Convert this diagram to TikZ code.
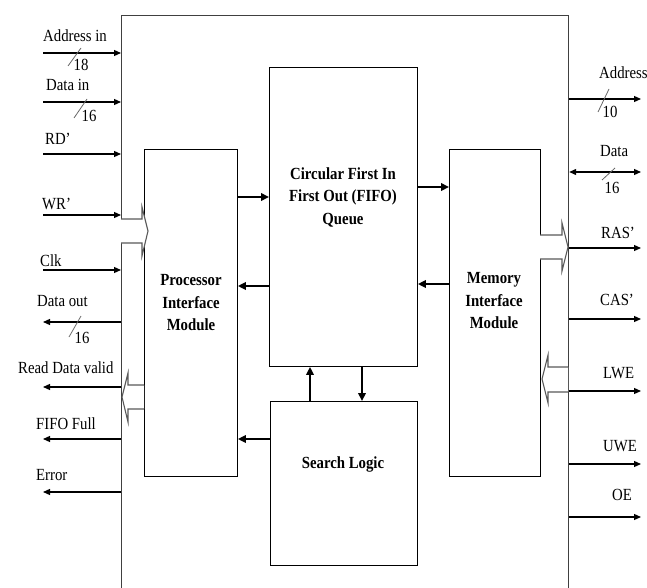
\documentclass[tikz,border=0pt]{standalone}
\usepackage{fontspec}
\setmainfont{Liberation Serif}[FakeStretch=0.87]
\usetikzlibrary{arrows.meta, positioning, calc}

\begin{document}
\begin{tikzpicture}[x=1pt, y=-1pt, >={Triangle[length=7pt,width=6pt]},
  every node/.style={font=\fontsize{17}{22.5}\selectfont, inner sep=0pt},
  blk/.style={draw, line width=0.9pt, anchor=north west},
  sig/.style={->, line width=1.2pt},
  bus/.style={->, line width=2.7pt, >={Triangle[length=8pt,width=7.5pt]}},
  hollow/.style={draw=black!65, line width=1.1pt, fill=white},
  busmark/.style={draw=black!60, line width=0.8pt},
  lbl/.style={anchor=base west},
  btxt/.style={align=center, font=\fontsize{17}{22.5}\selectfont\bfseries}]
\useasboundingbox (0,0) rectangle (647,588);

% blocks
\node[blk, draw=black!75, line width=1.2pt, minimum width=447pt, minimum height=600pt] (chip) at (121,15) {};
\node[blk, minimum width=93pt, minimum height=327pt] (proc) at (144,149) {};
\node[blk, minimum width=148pt, minimum height=299pt] (fifo) at (269,67) {};
\node[blk, minimum width=147pt, minimum height=164pt] (search) at (270,401) {};
\node[blk, minimum width=91pt, minimum height=327pt] (mem) at (449,149) {};

\node[btxt] (proctxt) at (191,303) {Processor\\Interface\\Module};
\node[btxt] (fifotxt) at (343,197) {Circular First In\\First Out (FIFO)\\Queue};
\node[btxt] (memtxt) at (494,301) {Memory\\Interface\\Module};
\node[btxt] (searchtxt) at (343,464) {Search Logic};

% internal buses
\draw[bus] (proc.east |- 0,197) -- (fifo.west |- 0,197);
\draw[bus] (fifo.west |- 0,286) -- (proc.east |- 0,286);
\draw[bus] (search.west |- 0,439) -- (proc.east |- 0,439);
\draw[bus] (fifo.east |- 0,187) -- (mem.west |- 0,187);
\draw[bus] (mem.west |- 0,284) -- (fifo.east |- 0,284);
\draw[bus] (search.north -| 310,0) -- (fifo.south -| 310,0);
\draw[bus] (fifo.south -| 362,0) -- (search.north -| 362,0);

% processor side signals
\coordinate (addrin) at (43,53);
\coordinate (datain) at (43,102);
\coordinate (rd) at (43,154);
\coordinate (wr) at (43,215);
\coordinate (clk) at (43,270);
\coordinate (dataout) at (43,322);
\coordinate (rdv) at (43,387);
\coordinate (full) at (43,439);
\coordinate (err) at (43,492);

\draw[sig] (addrin) -- (addrin -| chip.west);
\draw[sig] (datain) -- (datain -| chip.west);
\draw[sig] (rd) -- (rd -| chip.west);
\draw[sig] (wr) -- (wr -| chip.west);
\draw[sig] (clk) -- (clk -| chip.west);
\draw[sig] (dataout -| chip.west) -- (dataout);
\draw[sig] (rdv -| chip.west) -- (rdv);
\draw[sig] (full -| chip.west) -- (full);
\draw[sig] (err -| chip.west) -- (err);

\node[lbl] (laddrin) at (43,42) {Address in};
\node[lbl] (ldatain) at (46,91) {Data in};
\node[lbl] (lrd) at (45,145) {RD’};
\node[lbl] (lwr) at (42,209) {WR’};
\node[lbl] (lclk) at (40,266) {Clk};
\node[lbl] (ldataout) at (37,306) {Data out};
\node[lbl] (lrdv) at (18,373) {Read Data valid};
\node[lbl] (lfull) at (36,429) {FIFO Full};
\node[lbl] (lerr) at (36,480) {Error};

\draw[busmark] (68,66) -- (81,48);
\node (w18) at (81,65) {18};
\draw[busmark] (74,118) -- (87,99);
\node (w16a) at (89,116) {16};
\draw[busmark] (69,337) -- (81,316);
\node (w16b) at (82,338) {16};

% memory side signals
\coordinate (addr) at (641,99);
\coordinate (data) at (641,172);
\coordinate (ras) at (641,248);
\coordinate (cas) at (641,319);
\coordinate (lwe) at (641,391);
\coordinate (uwe) at (641,464);
\coordinate (oe) at (641,517);

\draw[sig] (addr -| chip.east) -- (addr);
\draw[sig, <->] (data -| chip.east) -- (data);
\draw[sig] (ras -| chip.east) -- (ras);
\draw[sig] (cas -| chip.east) -- (cas);
\draw[sig] (lwe -| chip.east) -- (lwe);
\draw[sig] (uwe -| chip.east) -- (uwe);
\draw[sig] (oe -| chip.east) -- (oe);

\node[lbl] (laddr) at (599,79) {Address};
\node[lbl] (ldata) at (600,157) {Data};
\node[lbl] (lras) at (601,238) {RAS’};
\node[lbl] (lcas) at (600,305) {CAS’};
\node[lbl] (llwe) at (603,378) {LWE};
\node[lbl] (luwe) at (603,451) {UWE};
\node[lbl] (loe) at (612,500) {OE};

\draw[busmark] (598,112) -- (609,89);
\node (w10) at (610,112) {10};
\draw[busmark] (602,180) -- (615,168);
\node (w16c) at (612,188) {16};

% hollow control arrows
\draw[hollow] (121,219) -- (142,219) -- (142,207) -- (148,231) -- (142,256) -- (142,243) -- (121,243);
\draw[hollow] (144,385) -- (128,385) -- (128,373) -- (122,397) -- (128,422) -- (128,409) -- (144,409);
\draw[hollow] (540,235) -- (562,235) -- (562,223) -- (568,247) -- (562,271) -- (562,259) -- (540,259);
\draw[hollow] (568,367) -- (548,367) -- (548,355) -- (542,379) -- (548,403) -- (548,392) -- (568,392);
\end{tikzpicture}
\end{document}
